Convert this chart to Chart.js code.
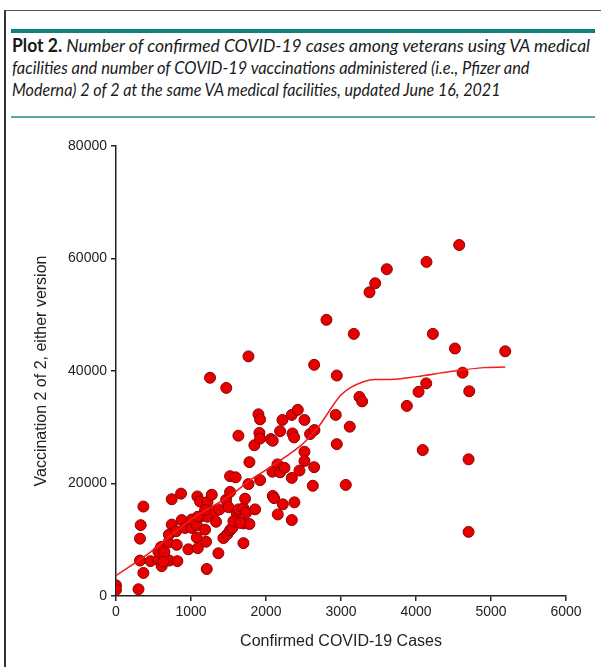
<!DOCTYPE html>
<html>
<head>
<meta charset="utf-8">
<script src="https://cdn.jsdelivr.net/npm/chart.js@4/dist/chart.umd.min.js"></script>
<style>
  html, body { margin: 0; padding: 0; background: #fff; }
  body { width: 601px; height: 667px; position: relative; overflow: hidden; }
  #frame { position: absolute; left: 4px; top: 10px; width: 640px; height: 700px;
           border-left: 2px solid #333; border-top: 1.5px solid #555; }
  #bar { position: absolute; left: 11px; top: 29px; width: 584px; height: 4px; background: #10817f; }
  #rule { position: absolute; left: 11px; top: 116px; width: 584px; height: 1.5px; background: #58a8a6; }
  #title { position: absolute; left: 12px; top: 34px; font-family: Lato, "Open Sans", sans-serif;
           font-size: 18px; line-height: 22px; color: #1a1a1a; }
  #title div { white-space: nowrap; transform-origin: 0 50%; font-style: italic; }
  #title b { font-style: normal; font-weight: 700; }
  #wrap { position: absolute; left: 0; top: 130px; width: 601px; height: 537px; }
</style>
</head>
<body>
<div id="frame"></div>
<div id="bar"></div>
<div id="title">
  <div data-w="578"><b>Plot 2.</b> Number of confirmed COVID-19 cases among veterans using VA medical</div>
  <div data-w="542">facilities and number of COVID-19 vaccinations administered (i.e., Pfizer and</div>
  <div data-w="531">Moderna) 2 of 2 at the same VA medical facilities, updated June 16, 2021</div>
</div>
<div id="rule"></div>
<div id="wrap"><canvas id="plot" width="601" height="537"></canvas></div>
<script>
// confirmed cases per facility
const cases = [
  0, 0, 300, 365, 320, 460, 565, 609, 711, 818,
  320, 329, 365, 565, 600, 645, 698, 705, 743, 801,
  810, 743, 867, 877, 921, 965, 1010, 1077, 1077, 1090,
  1085, 1121, 1219, 1277, 1143, 1219, 1188, 1201, 1210, 1321,
  1334, 1365, 1379, 1432, 1468, 1485, 1499, 1521, 1521, 1595,
  1521, 1550, 1610, 1601, 1632, 1699, 1699, 1699, 1721, 1735,
  1779, 1855, 1766, 1779, 1845, 1921, 1899, 1921, 1912, 1921,
  1632, 1766, 1254, 1470, 2064, 2090, 2188, 2219, 2344, 2424,
  2513, 2353, 2375, 2588, 2646, 2513, 2513, 2642, 2624, 2446,
  2344, 2153, 2086, 2188, 2246, 2090, 2108, 2224, 2379, 2157,
  2344, 2642, 2944, 2930, 2944, 3064, 3117, 2806, 3171, 3246,
  3282, 3380, 3456, 3611, 4140, 4576, 4225, 4519, 5190, 4621,
  4136, 4034, 4710, 3878, 4090, 4701, 4701, 1010, 1566, 1654,
  1188, 1090, 631
];
// vaccinations, 2 of 2
const vaccinations = [
  1900, 1100, 1200, 4100, 6300, 6200, 6400, 5300, 6300, 6200,
  10200, 12600, 15900, 7900, 8700, 7800, 9500, 10900, 12700, 11500,
  9100, 17200, 18200, 13500, 12100, 8300, 12100, 12600, 10400, 8500,
  17700, 16800, 16700, 18000, 14200, 14100, 11800, 9650, 4800, 15000,
  13200, 7600, 15400, 10300, 17100, 11000, 15800, 18500, 21300, 21100,
  11700, 12100, 14700, 13200, 15400, 9400, 15600, 12900, 17300, 14800,
  12800, 15400, 19900, 23800, 26800, 20600, 32300, 31400, 29000, 28000,
  28500, 42600, 38800, 37000, 27900, 27600, 29300, 31300, 32200, 33100,
  31300, 28900, 28200, 28800, 29500, 25650, 24000, 22900, 19600, 22300,
  21000, 23400, 22100, 22000, 22800, 17800, 17400, 16300, 16650, 14500,
  13500, 41100, 39200, 32200, 27000, 19750, 30100, 49100, 46600, 35400,
  34600, 54000, 55600, 58100, 59400, 62400, 46600, 44000, 43500, 39700,
  37800, 36300, 36400, 33800, 25950, 24300, 11400, 13600, 13300, 13000,
  15300, 14100, 6100
];
// smoothed fit line
const fitX = [0, 450, 990, 1570, 1790, 2010, 2450, 2540, 2700, 2990, 3120, 3300, 3450, 3660, 4010, 4460, 4900, 5190];
const fitY = [3600, 7700, 13500, 18300, 20600, 22500, 26600, 27700, 30100, 35600, 37000, 38100, 38500, 38500, 39000, 39900, 40600, 40700];

const xTicks = [0, 1000, 2000, 3000, 4000, 5000, 6000];
const yTicks = [0, 20000, 40000, 60000, 80000];

// squeeze the caption lines to the reference widths
document.querySelectorAll("#title div").forEach(function (el) {
  const w = el.getBoundingClientRect().width;
  el.style.transform = "scaleX(" + (Number(el.dataset.w) / w) + ")";
});

const points = cases.map(function (c, i) { return { x: c, y: vaccinations[i] }; });
const fit = fitX.map(function (c, i) { return { x: c, y: fitY[i] }; });

const tickFont = { family: "'Liberation Sans', Arial, sans-serif", size: 14 };
const titleFont = { family: "'Liberation Sans', Arial, sans-serif", size: 16 };

new Chart(document.getElementById("plot"), {
  type: "scatter",
  data: {
    datasets: [
      {
        label: "Facilities",
        data: points,
        backgroundColor: "rgb(232, 0, 0)",
        borderColor: "rgb(140, 0, 0)",
        borderWidth: 1,
        pointRadius: 5.5,
        order: 2,
      },
      {
        label: "Fit",
        type: "line",
        data: fit,
        showLine: true,
        fill: false,
        borderColor: "rgb(240, 30, 30)",
        borderWidth: 1.5,
        pointRadius: 0,
        cubicInterpolationMode: "monotone",
        order: 1,
      },
    ],
  },
  options: {
    responsive: false,
    animation: false,
    layout: { padding: { top: 16, right: 35, left: 0, bottom: 0 } },
    plugins: {
      legend: { display: false },
      tooltip: { enabled: false },
    },
    scales: {
      x: {
        type: "linear",
        min: 0,
        max: 6000,
        afterFit: function (scale) { scale.height = 71; },
        afterBuildTicks: function (scale) { scale.ticks = xTicks.map(function (v) { return { value: v }; }); },
        ticks: { color: "#222", font: tickFont, padding: 3, callback: function (v) { return String(v); } },
        grid: { drawOnChartArea: false, drawTicks: true, tickLength: 5, color: "#222", lineWidth: 1.5 },
        border: { display: true, color: "#222", width: 1.5 },
        title: { display: true, text: "Confirmed COVID-19 Cases", color: "#222", font: titleFont, padding: { top: 0, bottom: 16 } },
      },
      y: {
        type: "linear",
        min: 0,
        max: 80000,
        afterFit: function (scale) { scale.width = 116; },
        afterBuildTicks: function (scale) { scale.ticks = yTicks.map(function (v) { return { value: v }; }); },
        ticks: { color: "#222", font: tickFont, padding: 4, callback: function (v) { return String(v); } },
        grid: { drawOnChartArea: false, drawTicks: true, tickLength: 5, color: "#222", lineWidth: 1.5 },
        border: { display: true, color: "#222", width: 1.5 },
        title: { display: true, text: "Vaccination 2 of 2, either version", color: "#222", font: titleFont, padding: { top: 32, bottom: 0 } },
      },
    },
  },
});
</script>
</body>
</html>
